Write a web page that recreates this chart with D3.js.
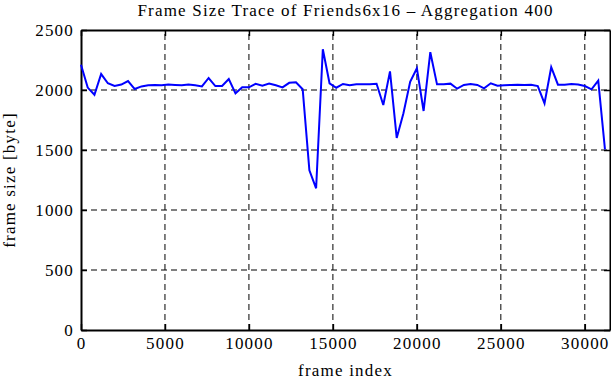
<!DOCTYPE html>
<html>
<head>
<meta charset="utf-8">
<script src="https://cdn.jsdelivr.net/npm/d3@7"></script>
<style>
  html, body { margin: 0; padding: 0; background: #fff; }
  svg { display: block; }
  text { font-family: "Liberation Serif", "DejaVu Serif", serif; fill: #000; letter-spacing: 1.2px; }
</style>
</head>
<body>
<svg id="chart" width="611" height="380"></svg>
<script>
const titleText = "Frame Size Trace of Friends6x16 \u2013 Aggregation 400";
const xLabel = "frame index";
const yLabel = "frame size [byte]";
const xTicks = [0, 5000, 10000, 15000, 20000, 25000, 30000];
const yTicks = [0, 500, 1000, 1500, 2000, 2500];
const frames = [0, 400, 800, 1200, 1600, 2000, 2400, 2800, 3200, 3600,
  4000, 4400, 4800, 5200, 5600, 6000, 6400, 6800, 7200, 7600,
  8000, 8400, 8800, 9200, 9600, 10000, 10400, 10800, 11200, 11600,
  12000, 12400, 12800, 13200, 13600, 14000, 14400, 14800, 15200, 15600,
  16000, 16400, 16800, 17200, 17600, 18000, 18400, 18800, 19200, 19600,
  20000, 20400, 20800, 21200, 21600, 22000, 22400, 22800, 23200, 23600,
  24000, 24400, 24800, 25200, 25600, 26000, 26400, 26800, 27200, 27600,
  28000, 28400, 28800, 29200, 29600, 30000, 30400, 30800, 31200];
const sizes = [2210, 2020, 1960, 2133, 2056, 2033, 2045, 2075, 2008, 2030,
  2040, 2042, 2040, 2045, 2042, 2040, 2045, 2040, 2030, 2100,
  2033, 2033, 2092, 1972, 2022, 2022, 2052, 2036, 2053, 2039,
  2022, 2060, 2064, 2006, 1330, 1181, 2340, 2056, 2019, 2050,
  2039, 2047, 2047, 2047, 2052, 1875, 2155, 1600, 1806, 2069,
  2181, 1825, 2315, 2047, 2047, 2053, 2011, 2042, 2050, 2042,
  2014, 2056, 2036, 2039, 2042, 2044, 2042, 2044, 2033, 1889,
  2190, 2044, 2044, 2050, 2046, 2033, 2006, 2078, 1506];
const xMax = 31500;
const yMax = 2500;

const svg = d3.select("#chart");
const m = { left: 81, right: 1, top: 30, bottom: 50 };
const W = 611, H = 380;
const x = d3.scaleLinear().domain([0, xMax]).range([m.left, W - m.right]);
const y = d3.scaleLinear().domain([0, yMax]).range([H - m.bottom, m.top]);
const x0 = x.range()[0], x1 = x.range()[1], y0 = y.range()[0], y1 = y.range()[1];
const fmt = d3.format("d");

// grid
const grid = svg.append("g");
grid.selectAll("line.gx").data(xTicks.filter(t => t > 0)).enter().append("line")
  .attr("x1", d => x(d)).attr("x2", d => x(d)).attr("y1", y0).attr("y2", y1)
  .attr("stroke", "#000").attr("stroke-width", 1).attr("stroke-dasharray", "6,4");
grid.selectAll("line.gy").data(yTicks.filter(t => t > 0 && t < yMax)).enter().append("line")
  .attr("y1", d => y(d)).attr("y2", d => y(d)).attr("x1", x0).attr("x2", x1)
  .attr("stroke", "#000").attr("stroke-width", 1).attr("stroke-dasharray", "6,4");

// axes (inward ticks on all four sides)
const tl = 6;
const axB = svg.append("g").attr("transform", `translate(0,${y0})`)
  .call(d3.axisBottom(x).tickValues(xTicks).tickFormat(fmt).tickSize(-tl).tickPadding(7).tickSizeOuter(0));
const axT = svg.append("g").attr("transform", `translate(0,${y1})`)
  .call(d3.axisTop(x).tickValues(xTicks).tickSize(-tl).tickFormat("").tickSizeOuter(0));
const axL = svg.append("g").attr("transform", `translate(${x0},0)`)
  .call(d3.axisLeft(y).tickValues(yTicks).tickFormat(fmt).tickSize(-tl).tickPadding(7).tickSizeOuter(0));
const axR = svg.append("g").attr("transform", `translate(${x1},0)`)
  .call(d3.axisRight(y).tickValues(yTicks).tickSize(-tl).tickFormat("").tickSizeOuter(0));
[axB, axT, axL, axR].forEach(a => {
  a.select(".domain").attr("stroke", "#000").attr("stroke-width", 2);
  a.selectAll(".tick line").attr("stroke", "#000").attr("stroke-width", 1.5);
  a.selectAll("text").attr("font-size", 17).attr("font-family", "Liberation Serif, serif").attr("fill", "#000");
});

// line
const line = d3.line().x((d, i) => x(frames[i])).y(d => y(d));
svg.append("path").datum(sizes)
  .attr("d", line).attr("fill", "none").attr("stroke", "#0000ff")
  .attr("stroke-width", 2).attr("stroke-linejoin", "miter");

// labels
svg.append("text").attr("x", (x0 + x1) / 2).attr("y", 16).attr("text-anchor", "middle")
  .attr("font-size", 17).text(titleText);
svg.append("text").attr("x", (x0 + x1) / 2).attr("y", 376).attr("text-anchor", "middle")
  .attr("font-size", 17).text(xLabel);
svg.append("text").attr("transform", `translate(15,${(y0 + y1) / 2}) rotate(-90)`)
  .attr("text-anchor", "middle").attr("font-size", 17).text(yLabel);
</script>
</body>
</html>
